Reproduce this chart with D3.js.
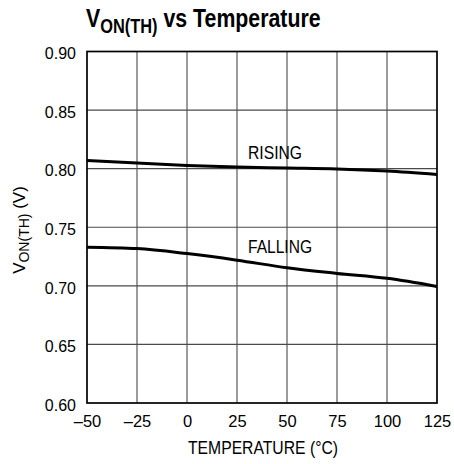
<!DOCTYPE html>
<html><head><meta charset="utf-8">
<script src="https://cdn.jsdelivr.net/npm/d3@7"></script>
<style>
body{margin:0;background:#fff;}
text{font-family:"Liberation Sans",Arial,sans-serif;fill:#000;}
</style></head>
<body><svg id="c" width="454" height="464"></svg>
<script>
const temps = [-50, -25, 0, 25, 50, 75, 100, 125];
const rising = [0.807, 0.8048, 0.8028, 0.8014, 0.8006, 0.7998, 0.798, 0.7951];
const falling = [0.733, 0.7318, 0.7275, 0.7219, 0.7154, 0.7106, 0.7064, 0.6995];
const xTicks = [-50, -25, 0, 25, 50, 75, 100, 125];
const xTickLabels = ["–50", "–25", "0", "25", "50", "75", "100", "125"];
const yTicks = [0.60, 0.65, 0.70, 0.75, 0.80, 0.85, 0.90];
const yTickLabels = ["0.60", "0.65", "0.70", "0.75", "0.80", "0.85", "0.90"];

const svg = d3.select("#c");
const L = 87, R = 437, T = 51.5, B = 403;
const x = d3.scaleLinear().domain([-50, 125]).range([L, R]);
const y = d3.scaleLinear().domain([0.60, 0.90]).range([B, T]);

// grid
svg.append("g").selectAll("line").data(xTicks.slice(1, -1)).join("line")
  .attr("x1", d => x(d)).attr("x2", d => x(d)).attr("y1", T).attr("y2", B)
  .attr("stroke", "#4a4a4a").attr("stroke-width", 1.1);
svg.append("g").selectAll("line").data(yTicks.slice(1, -1)).join("line")
  .attr("y1", d => y(d)).attr("y2", d => y(d)).attr("x1", L).attr("x2", R)
  .attr("stroke", "#4a4a4a").attr("stroke-width", 1.1);

// axes via d3 (labels only)
const xAxis = d3.axisBottom(x).tickValues(xTicks).tickSize(0).tickPadding(12)
  .tickFormat((d, i) => xTickLabels[i]);
const gx = svg.append("g").attr("transform", `translate(0,${B})`).call(xAxis);
gx.select(".domain").remove();
gx.selectAll("text").attr("font-size", 16.5).attr("fill", "#000")
  .attr("font-family", "Liberation Sans, Arial, sans-serif");

const yAxis = d3.axisLeft(y).tickValues(yTicks).tickSize(0).tickPadding(11)
  .tickFormat((d, i) => yTickLabels[i]);
const gy = svg.append("g").attr("transform", `translate(${L},0)`).call(yAxis);
gy.select(".domain").remove();
gy.selectAll("text").attr("font-size", 16).attr("dy", "0.45em").attr("fill", "#000")
  .attr("font-family", "Liberation Sans, Arial, sans-serif");

// frame
svg.append("rect").attr("x", L).attr("y", T).attr("width", R - L).attr("height", B - T)
  .attr("fill", "none").attr("stroke", "#000").attr("stroke-width", 1.7);

// lines
const line = d3.line().x((d, i) => x(temps[i])).y(d => y(d)).curve(d3.curveMonotoneX);
[rising, falling].forEach(s => {
  svg.append("path").attr("d", line(s)).attr("fill", "none")
    .attr("stroke", "#000").attr("stroke-width", 3);
});

// series labels
svg.append("text").attr("x", 248).attr("y", 158.5).attr("font-size", 18)
  .attr("textLength", 54).attr("lengthAdjust", "spacingAndGlyphs").text("RISING");
svg.append("text").attr("x", 248).attr("y", 252.5).attr("font-size", 18)
  .attr("textLength", 64).attr("lengthAdjust", "spacingAndGlyphs").text("FALLING");

// title (condensed bold)
const tg = svg.append("g").attr("transform", "translate(86,27) scale(0.82,1)");
const title = tg.append("text").attr("x", 0).attr("y", 0)
  .attr("font-size", 26).attr("font-weight", "bold");
title.append("tspan").text("V");
title.append("tspan").attr("font-size", 20).attr("dy", 6).text("ON(TH)");
title.append("tspan").attr("dy", -6).text(" vs Temperature");

// x title
svg.append("text").attr("x", 188).attr("y", 454).attr("font-size", 18)
  .attr("textLength", 150).attr("lengthAdjust", "spacingAndGlyphs").text("TEMPERATURE (°C)");

// y title
const yt = svg.append("text").attr("transform", `translate(25,230) rotate(-90)`)
  .attr("text-anchor", "middle").attr("font-size", 17);
yt.append("tspan").text("V");
yt.append("tspan").attr("font-size", 14).attr("dy", 4).text("ON(TH)");
yt.append("tspan").attr("dy", -4).text(" (V)");
</script></body></html>
